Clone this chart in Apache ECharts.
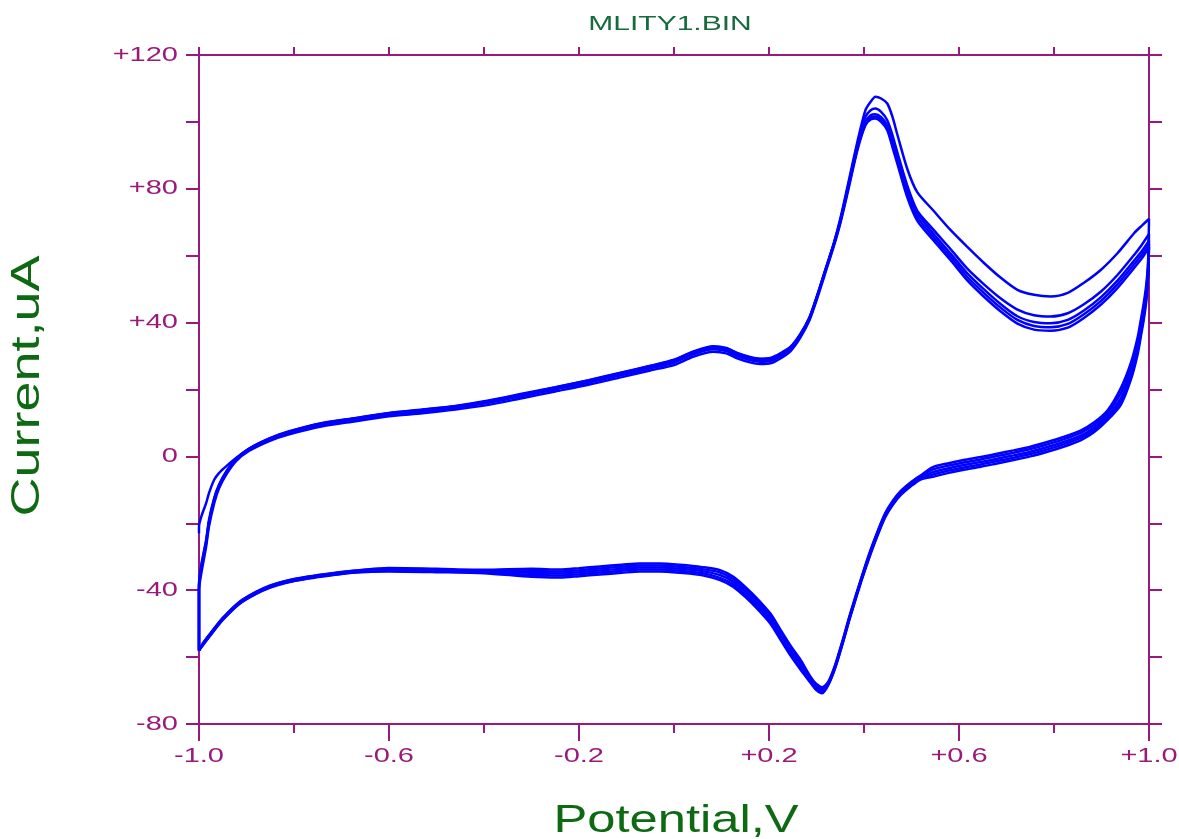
<!DOCTYPE html>
<html>
<head>
<meta charset="utf-8">
<script src="https://cdn.jsdelivr.net/npm/echarts@6/dist/echarts.min.js"></script>
<style>
  html, body { margin: 0; padding: 0; background: #ffffff; }
  #chart { width: 1179px; height: 839px; }
</style>
</head>
<body>
<div id="chart"></div>
<script>
// Cyclic voltammogram, five consecutive scans.
// Anodic sweep potentials (V), -1.0 -> +1.0
const potentialForward = [
  -1.0, -1.0, -0.994, -0.985, -0.979, -0.968, -0.958, -0.943, -0.922, -0.895,
  -0.852, -0.81, -0.74, -0.67, -0.6, -0.53, -0.46, -0.39, -0.32, -0.25,
  -0.18, -0.11, -0.05, 0.0, 0.04, 0.083, 0.11, 0.133, 0.16, 0.181,
  0.205, 0.224, 0.245, 0.266, 0.285, 0.30, 0.318, 0.336, 0.35, 0.365,
  0.386, 0.403, 0.414, 0.424, 0.436, 0.449, 0.46, 0.47, 0.491, 0.512,
  0.546, 0.582, 0.617, 0.652, 0.688, 0.723, 0.758, 0.793, 0.829, 0.863,
  0.899, 0.934, 0.969, 0.985, 1.0
];
// Cathodic sweep potentials (V), +1.0 -> -1.0
const potentialReverse = [
  1.0, 0.998, 0.994, 0.988, 0.983, 0.976, 0.962, 0.941, 0.913, 0.884,
  0.857, 0.82, 0.786, 0.75, 0.715, 0.68, 0.646, 0.61, 0.576, 0.545,
  0.519, 0.498, 0.477, 0.46, 0.445, 0.43, 0.414, 0.395, 0.371, 0.355,
  0.34, 0.325, 0.312, 0.298, 0.287, 0.265, 0.245, 0.225, 0.203, 0.175,
  0.15, 0.125, 0.097, 0.06, 0.013, -0.03, -0.072, -0.11, -0.156, -0.2,
  -0.24, -0.3, -0.4, -0.5, -0.6, -0.67, -0.72, -0.77, -0.82, -0.85,
  -0.88, -0.915, -0.95, -0.975, -0.99, -1.0
];

// Currents (uA) for each scan
const cycle1Forward = [
  -23, -21, -17.5, -14, -11, -7, -5, -3, -0.5, 2.3,
  5.4, 7.5, 10, 11.5, 13, 14, 15.1, 16.7, 18.7, 20.7,
  22.8, 25.1, 27.1, 28.9, 31.3, 32.9, 32.4, 30.9, 29.7, 29.2,
  29.5, 30.8, 32.7, 36.6, 41.5, 47.5, 55.5, 63.5, 71, 80.5,
  94, 103.5, 106, 107.5, 107, 105.5, 101.5, 96.3, 86, 79,
  73.5, 67.7, 62.7, 57.9, 53.4, 49.8, 48.3, 47.8, 48.9, 51.9,
  55.8, 60.8, 66.8, 69, 71
];
const cycle1Reverse = [
  71, 58, 51, 45, 41, 35.5, 28, 20.5, 13.8, 10.1,
  7.8, 5.8, 4.3, 2.9, 1.8, 0.8, -0.2, -1.1, -2.1, -3.2,
  -5.7, -7.8, -10.4, -13.4, -16.9, -21.9, -27.9, -36, -47, -55,
  -62, -67.3, -69, -67.8, -65.8, -60.5, -56.5, -52, -47, -42.5,
  -39, -36, -34, -33.1, -32.4, -32, -32, -32.4, -32.9, -33.4,
  -33.8, -33.6, -33.9, -33.6, -33.4, -34.1, -34.9, -35.9, -37.3, -38.6,
  -40.5, -43.5, -48.3, -52.7, -55.5, -58
];
const cycle2Forward = [
  -58, -38.5, -32, -25.5, -19.5, -12.8, -8.8, -4.8, -0.8, 2.2,
  5.2, 7.3, 9.8, 11.3, 12.8, 13.7, 14.8, 16.3, 18.3, 20.3,
  22.4, 24.7, 26.7, 28.4, 30.9, 32.4, 31.9, 30.4, 29.2, 28.7,
  29, 30.4, 32.4, 36.3, 41.3, 47.3, 55.3, 63.3, 70.5, 79.8,
  93, 101.5, 103.5, 104, 103, 100.5, 96, 91, 81, 73.5,
  67.8, 62, 56.2, 51.5, 47.2, 43.9, 42.2, 41.8, 42.8, 45.5,
  49.3, 54.3, 60.3, 63.3, 66.5
];
const cycle2Reverse = [
  66.5, 56.5, 49.5, 43.5, 39.5, 34, 26.5, 19, 13.1, 9.4,
  7.1, 5.1, 3.6, 2.2, 1.1, 0.1, -0.9, -1.8, -2.8, -3.9,
  -6, -8.1, -10.7, -13.7, -17.2, -22.2, -28.2, -36.3, -47.3, -55.3,
  -62.3, -67.6, -69.4, -68.2, -66.2, -61.2, -57.2, -52.7, -47.7, -43.2,
  -39.7, -36.7, -34.7, -33.7, -33, -32.6, -32.6, -33, -33.5, -34,
  -34.4, -34.2, -34.2, -33.9, -33.7, -34.2, -35, -36, -37.4, -38.7,
  -40.6, -43.6, -48.4, -52.8, -55.6, -58
];
const cycle3Forward = [
  -58, -38, -31.5, -25, -19, -12.5, -8.5, -4.6, -0.7, 2.3,
  5.3, 7.4, 9.9, 11.4, 12.9, 13.9, 15, 16.6, 18.6, 20.6,
  22.7, 25, 27, 28.8, 31.2, 32.8, 32.3, 30.8, 29.6, 29.1,
  29.4, 30.7, 32.6, 36.5, 41.4, 47.4, 55.4, 63.4, 70.4, 79.5,
  92.5, 100, 102, 102.3, 101.4, 99, 94.3, 89.8, 80, 72.8,
  66.6, 60.7, 54.8, 50, 45.5, 41.9, 40.2, 39.8, 40.8, 43.6,
  47.6, 52.6, 58.6, 61.4, 64.5
];
const cycle3Reverse = [
  64.5, 55, 48, 42, 38, 32.5, 25, 17.5, 12.3, 8.6,
  6.3, 4.3, 2.8, 1.4, 0.3, -0.7, -1.7, -2.6, -3.6, -4.7,
  -6.3, -8.4, -11, -14, -17.5, -22.5, -28.5, -36.5, -47.5, -55.5,
  -62.5, -67.8, -69.8, -68.6, -66.6, -62, -58, -53.5, -48.5, -44,
  -40.5, -37.5, -35.5, -34.3, -33.6, -33.2, -33.2, -33.6, -34.1, -34.6,
  -35, -34.8, -34.4, -34.1, -33.9, -34.4, -35.2, -36.2, -37.6, -38.9,
  -40.8, -43.8, -48.6, -53, -55.8, -58
];
const cycle4Forward = [
  -58, -39, -33, -26, -20, -13, -9, -5, -1, 2,
  5, 7, 9.5, 11, 12.5, 13.4, 14.5, 16, 18, 20,
  22, 24.3, 26.3, 28, 30.5, 32, 31.5, 30, 28.8, 28.3,
  28.6, 30, 32, 36, 41, 47, 55, 63, 70, 79,
  92, 99.5, 101.3, 101.6, 100.6, 98.2, 93.3, 88.7, 78.7, 71.6,
  65.6, 59.7, 53.7, 48.9, 44.4, 40.8, 39, 38.6, 39.6, 42.5,
  46.5, 51.5, 57.5, 60.3, 63.5
];
const cycle4Reverse = [
  63.5, 54, 47, 41, 37, 31.5, 24, 16.5, 11.6, 7.9,
  5.6, 3.6, 2.1, 0.7, -0.4, -1.4, -2.4, -3.3, -4.3, -5.4,
  -6.6, -8.7, -11.3, -14.3, -17.8, -22.8, -28.8, -36.8, -47.8, -55.8,
  -62.8, -68.1, -70.3, -69.1, -67.1, -62.8, -58.8, -54.3, -49.3, -44.8,
  -41.3, -38.3, -36.3, -34.9, -34.2, -33.8, -33.8, -34.2, -34.7, -35.2,
  -35.6, -35.4, -34.7, -34.4, -34.2, -34.6, -35.4, -36.4, -37.8, -39.1,
  -41, -44, -48.8, -53.2, -56, -58
];
const cycle5Forward = [
  -58, -40, -34, -27, -21, -14, -9.6, -5.5, -1.4, 1.6,
  4.6, 6.6, 9, 10.5, 12, 12.9, 14, 15.4, 17.4, 19.4,
  21.4, 23.7, 25.7, 27.3, 29.8, 31.3, 30.8, 29.3, 28.1, 27.6,
  27.9, 29.3, 31.4, 35.5, 40.6, 46.6, 54.6, 62.6, 69.6, 78.5,
  91.5, 99, 100.7, 101, 100, 97.5, 92.4, 87.6, 77.5, 70.5,
  64.6, 58.7, 52.7, 47.8, 43.3, 39.7, 37.9, 37.6, 38.5, 41.4,
  45.4, 50.4, 56.4, 59.2, 62.5
];
const cycle5Reverse = [
  62.5, 53, 46, 40, 36, 30.5, 23, 15.5, 10.9, 7.2,
  4.9, 2.9, 1.4, 0, -1.1, -2.1, -3.1, -4, -5, -6.1,
  -6.9, -9, -11.6, -14.6, -18.1, -23.1, -29.1, -37, -48, -56,
  -63, -68.3, -70.8, -69.6, -67.6, -63.5, -59.5, -55, -50, -45.5,
  -42, -39, -37, -35.5, -34.8, -34.4, -34.4, -34.8, -35.3, -35.8,
  -36.2, -36, -34.9, -34.6, -34.4, -34.7, -35.5, -36.5, -37.9, -39.2,
  -41.1, -44.1, -48.9, -53.3, -56.1, -58
];

// Tick labels
const xTickValues = [-1.0, -0.6, -0.2, 0.2, 0.6, 1.0];
const xTickLabels = ['-1.0', '-0.6', '-0.2', '+0.2', '+0.6', '+1.0'];
const yTickValues = [-80, -40, 0, 40, 80, 120];
const yTickLabels = ['-80', '-40', '0', '+40', '+80', '+120'];

const AXIS_COLOR = '#981a7c';
const LABEL_COLOR = '#9a1a7c';
const TITLE_COLOR = '#17693e';
const NAME_COLOR = '#0e6a12';
const TRACE_COLOR = '#0000ff';
const FONT = '"Liberation Sans", Arial, sans-serif';

const scans = [
  [cycle1Forward, cycle1Reverse],
  [cycle2Forward, cycle2Reverse],
  [cycle3Forward, cycle3Reverse],
  [cycle4Forward, cycle4Reverse],
  [cycle5Forward, cycle5Reverse]
];

function zip(xs, ys) {
  return xs.map((x, i) => [x, ys[i]]);
}

// One side of the plot frame: line plus outward ticks, no labels
function frameAxis(position, min, max, interval, tickLength, showLine) {
  return {
    type: 'value',
    position: position,
    min: min,
    max: max,
    interval: interval,
    axisLine: { show: showLine, onZero: false, lineStyle: { color: AXIS_COLOR, width: 2 } },
    axisTick: { show: true, inside: false, length: tickLength, lineStyle: { color: AXIS_COLOR, width: 2 } },
    axisLabel: { show: false },
    splitLine: { show: false }
  };
}

const chart = echarts.init(document.getElementById('chart'), null, { renderer: 'canvas' });

const option = {
  animation: false,
  backgroundColor: '#ffffff',
  grid: { left: 199, right: 30, top: 55, bottom: 115, outerBoundsMode: 'none' },
  xAxis: [
    frameAxis('bottom', -1, 1, 0.2, 9, true),
    frameAxis('bottom', -1, 1, 0.4, 17, false),
    frameAxis('top', -1, 1, 0.2, 8, true)
  ],
  yAxis: [
    frameAxis('left', -80, 120, 20, 13, true),
    frameAxis('right', -80, 120, 20, 13, true)
  ],
  series: scans.map((scan, i) => ({
    name: 'Cycle ' + (i + 1),
    type: 'line',
    xAxisIndex: 0,
    yAxisIndex: 0,
    data: zip(potentialForward, scan[0]).concat(zip(potentialReverse, scan[1])),
    showSymbol: false,
    smooth: 0.25,
    clip: false,
    z: 5,
    lineStyle: { color: TRACE_COLOR, width: 2.5 }
  }))
};

chart.setOption(option);

// Wide-set lettering for labels and titles, placed from the axis scales
function wideText(text, x, y, size, stretch, color, align, rotation) {
  return {
    type: 'text',
    x: x,
    y: y,
    scaleX: stretch,
    rotation: rotation || 0,
    z: 10,
    style: {
      text: text,
      font: size + 'px ' + FONT,
      fill: color,
      align: align,
      textAlign: align,
      verticalAlign: 'middle',
      textVerticalAlign: 'middle'
    }
  };
}

const toX = v => chart.convertToPixel({ xAxisIndex: 0 }, v);
const toY = v => chart.convertToPixel({ yAxisIndex: 0 }, v);
const plotLeft = toX(-1), plotRight = toX(1);
const plotTop = toY(120), plotBottom = toY(-80);
const plotMidX = (plotLeft + plotRight) / 2;

const texts = [];
xTickValues.forEach((v, i) => {
  texts.push(wideText(xTickLabels[i], toX(v), plotBottom + 32, 20, 1.45, LABEL_COLOR, 'center'));
});
yTickValues.forEach((v, i) => {
  texts.push(wideText(yTickLabels[i], plotLeft - 21, toY(v), 20, 1.45, LABEL_COLOR, 'right'));
});
texts.push(wideText('MLITY1.BIN', plotMidX - 4, plotTop - 31, 20, 1.5, TITLE_COLOR, 'center'));
texts.push(wideText('Potential,V', plotMidX + 2, plotBottom + 97.5, 39, 1.3, NAME_COLOR, 'center'));
texts.push(wideText('Current,uA', 27.5, (plotTop + plotBottom) / 2 - 3.5, 40, 1.35, NAME_COLOR, 'center', Math.PI / 2));

chart.setOption({ graphic: texts });
</script>
</body>
</html>
